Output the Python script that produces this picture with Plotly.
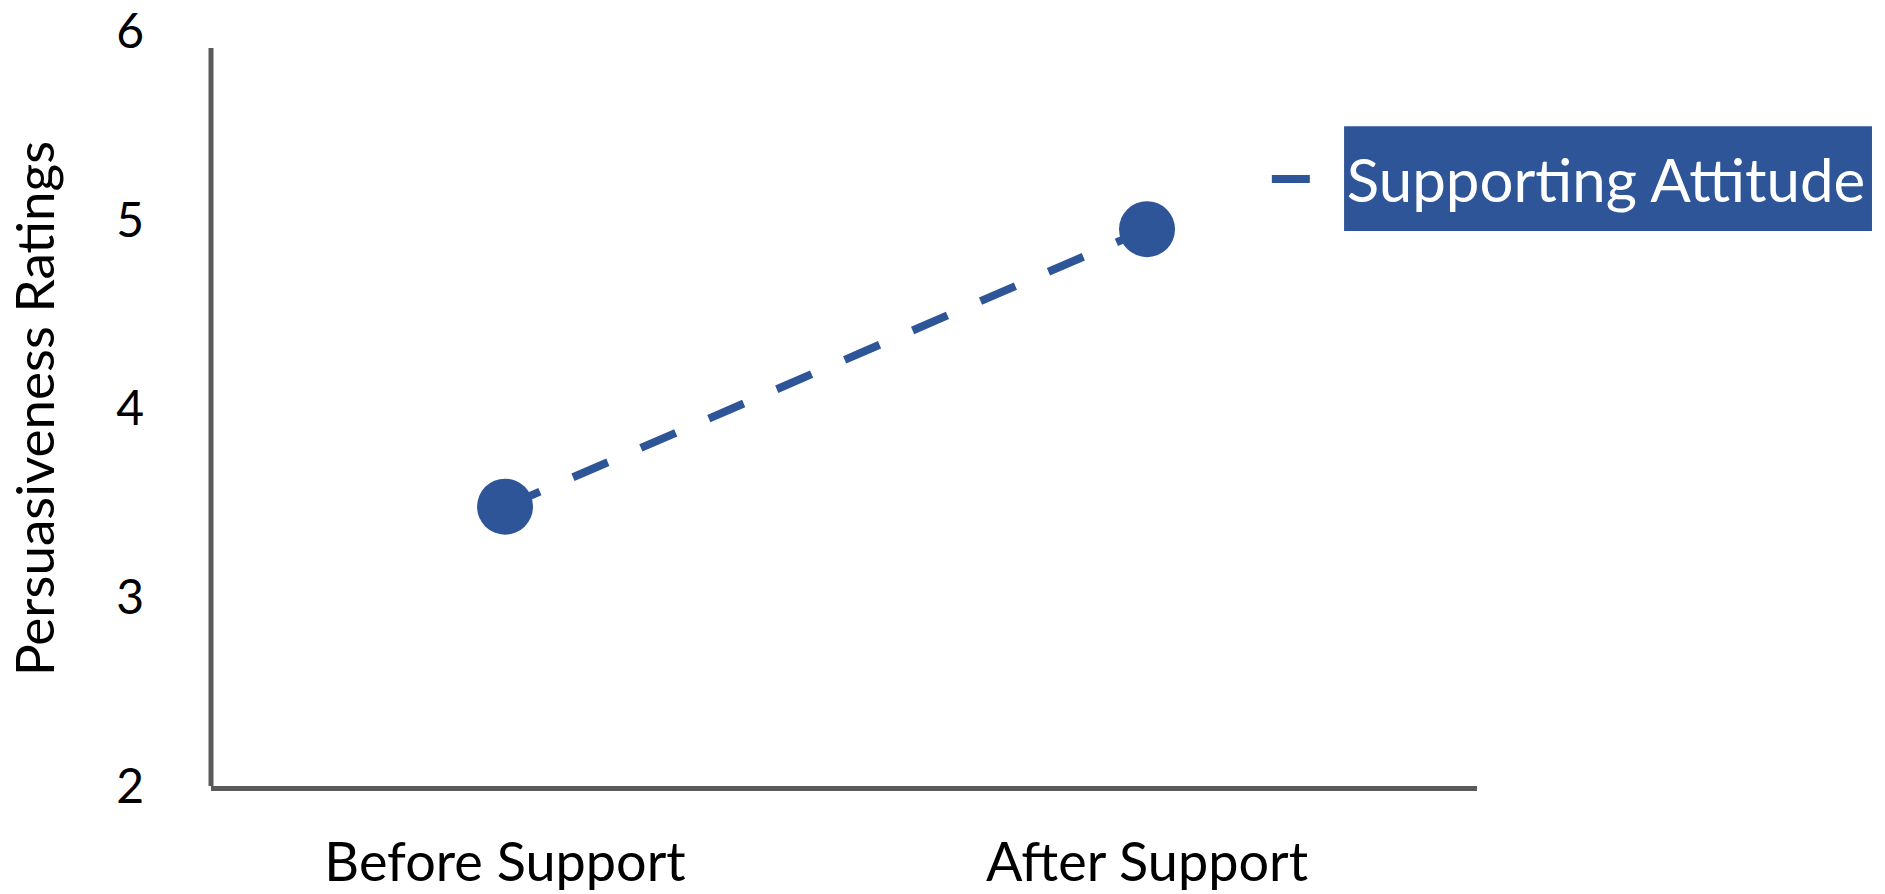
import plotly.graph_objects as go

# Data
conditions = ["Before Support", "After Support"]
ratings = [3.48, 4.95]
series_name = "Supporting Attitude"
y_ticks = [2, 3, 4, 5, 6]

BLUE = "#2E5597"
AXIS_GRAY = "#5A5A5A"
FONT = "Lato, 'Open Sans', sans-serif"

fig = go.Figure()
# Dashed connecting line (this one carries the legend entry)
fig.add_trace(go.Scatter(
    x=conditions,
    y=ratings,
    name=series_name,
    mode="lines",
    line=dict(color=BLUE, width=8, dash="38px,36px"),
    showlegend=True,
))
# Mean markers
fig.add_trace(go.Scatter(
    x=conditions,
    y=ratings,
    name=series_name,
    mode="markers",
    marker=dict(color=BLUE, size=56, symbol="circle"),
    showlegend=False,
))

# Vertical axis line stops just below the top tick
fig.add_shape(type="line", xref="paper", yref="y",
              x0=0, x1=0, y0=2, y1=5.91,
              line=dict(color=AXIS_GRAY, width=5), layer="above")

# Filled box behind the legend label
fig.add_shape(type="rect", xref="paper", yref="paper",
              x0=0.895, x1=1.312, y0=0.735, y1=0.874,
              fillcolor=BLUE, line=dict(width=0), layer="above")

fig.update_layout(
    width=1885, height=894,
    margin=dict(l=211, r=408, t=31, b=108),
    paper_bgcolor="white", plot_bgcolor="white",
    font=dict(family=FONT, color="black"),
    showlegend=True,
    legend=dict(
        x=0.834, y=0.804, xanchor="left", yanchor="middle",
        bgcolor="rgba(0,0,0,0)",
        font=dict(size=60, color="white", family=FONT),
        itemwidth=70,
    ),
    xaxis=dict(
        type="category",
        range=[-0.458, 1.514],
        automargin=False,
        showline=True, linecolor=AXIS_GRAY, linewidth=5,
        showgrid=False, zeroline=False, ticks="",
        tickfont=dict(size=54, color="black"),
        ticklabelstandoff=25,
    ),
    yaxis=dict(
        range=[2, 6],
        automargin=False,
        tickvals=y_ticks,
        ticktext=[str(v) for v in y_ticks],
        ticklabeloverflow="allow",
        showline=False, showgrid=False, zeroline=False, ticks="",
        tickfont=dict(size=48, color="black"),
        ticklabelstandoff=66,
        title=dict(text="Persuasiveness Ratings", font=dict(size=53, color="black"), standoff=44),
    ),
)

fig.write_html("out.html")
